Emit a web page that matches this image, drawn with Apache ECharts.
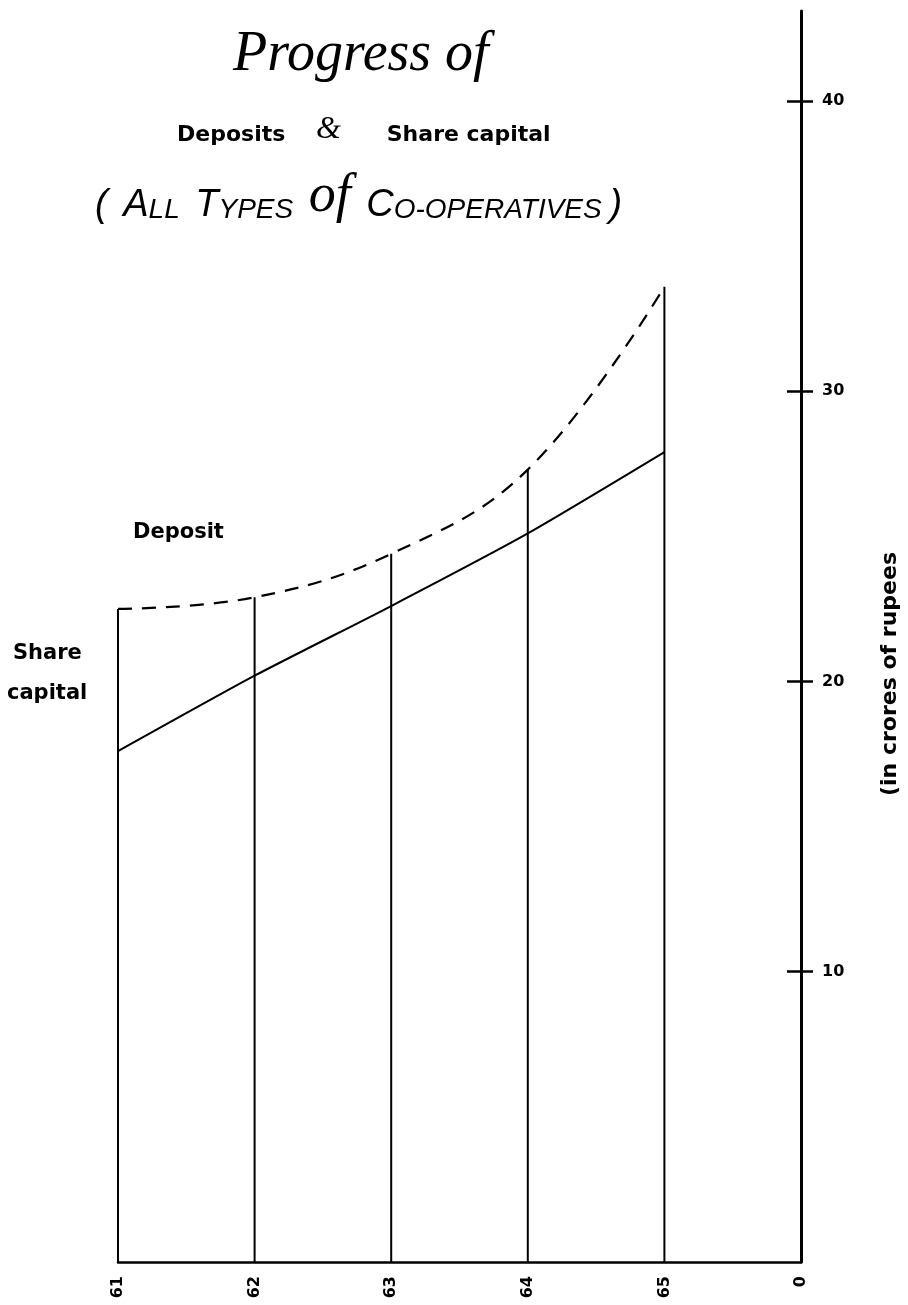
<!DOCTYPE html>
<html>
<head>
<meta charset="utf-8" />
<title>Progress of Deposits &amp; Share capital</title>
<script src="https://cdn.jsdelivr.net/npm/echarts@6.0.0/dist/echarts.min.js"></script>
<style>
  html, body { margin: 0; padding: 0; background: #fff; }
  #main { width: 908px; height: 1305px; }
</style>
</head>
<body>
<div id="main"></div>
<script>
// values (crores of rupees)
var years = [61, 62, 63, 64, 65];
var deposits = [22.5, 22.9, 24.4, 27.3, 33.6];
var shareCapital = [17.6, 20.2, 22.6, 25.1, 27.9];
var yTicks = [10, 20, 30, 40];
var xLabels = ['61', '62', '63', '64', '65', '0'];

var gridLeft = 118, gridRight = 107;
var chartW = 908;

function pairs(vals) {
  var out = [];
  for (var i = 0; i < years.length; i++) out.push([years[i], vals[i]]);
  return out;
}

var sans = 'DejaVu Sans';
var myChart = echarts.init(document.getElementById('main'));

var option = {
  backgroundColor: '#fff',
  animation: false,
  grid: { left: gridLeft, right: gridRight, top: 11, bottom: 43, outerBoundsMode: 'none' },
  xAxis: {
    type: 'value',
    min: 61, max: 66, interval: 1,
    axisLine: { show: true, lineStyle: { color: '#000', width: 2.5 } },
    axisTick: { show: false },
    splitLine: { show: false },
    axisLabel: {
      rotate: 90, margin: 14,
      fontFamily: sans, fontWeight: 'bold', fontSize: 16, color: '#000',
      formatter: function (v) { return xLabels[v - 61]; }
    }
  },
  yAxis: [
    {
      type: 'value', position: 'right',
      min: 0, max: 43.1,
      axisLine: { show: true, lineStyle: { color: '#000', width: 3 } },
      axisTick: { show: true, inside: true, length: 14, customValues: yTicks, lineStyle: { color: '#000', width: 2.5 } },
      axisLabel: { show: true, margin: 21, customValues: yTicks, fontFamily: sans, fontWeight: 'bold', fontSize: 16, color: '#000' },
      splitLine: { show: false }
    },
    {
      // only the short right-hand half of each tick
      type: 'value', position: 'left', offset: -(chartW - gridLeft - gridRight),
      min: 0, max: 43.1,
      axisLine: { show: false },
      axisTick: { show: true, inside: true, length: 12, customValues: yTicks, lineStyle: { color: '#000', width: 2.5 } },
      axisLabel: { show: false },
      splitLine: { show: false }
    }
  ],
  graphic: [
    {
      type: 'text', x: 233, y: 55,
      style: { text: 'Progress of', font: 'italic 56px "Liberation Serif"', fill: '#000', textAlign: 'left', textVerticalAlign: 'middle' }
    },
    {
      type: 'text', x: 177, y: 146,
      style: {
        text: '{d|Deposits}    {a|&}      {d|Share capital}',
        font: 'bold 22px "DejaVu Sans"', fill: '#000', textAlign: 'left', textVerticalAlign: 'bottom',
        rich: {
          d: { fontFamily: sans, fontWeight: 'bold', fontSize: 22, fill: '#000', verticalAlign: 'bottom' },
          a: { fontFamily: 'Liberation Serif', fontStyle: 'italic', fontSize: 32, fill: '#000', verticalAlign: 'bottom' }
        }
      }
    },
    {
      type: 'text', x: 95, y: 224,
      style: {
        text: '{b|(}  {b|A}{s|LL}  {b|T}{s|YPES}  {o|of}  {b|C}{s|O-OPERATIVES} {b|)}',
        font: 'italic 28px "Liberation Sans"', fill: '#000', textAlign: 'left', textVerticalAlign: 'bottom',
        rich: {
          b: { fontFamily: 'Liberation Sans', fontStyle: 'italic', fontSize: 38, fill: '#000', verticalAlign: 'bottom' },
          s: { fontFamily: 'Liberation Sans', fontStyle: 'italic', fontSize: 28, fill: '#000', verticalAlign: 'bottom' },
          o: { fontFamily: 'Liberation Serif', fontStyle: 'italic', fontSize: 54, fill: '#000', verticalAlign: 'bottom' }
        }
      }
    },
    { type: 'text', x: 133, y: 533, style: { text: 'Deposit', font: 'bold 21px "DejaVu Sans"', fill: '#000', textVerticalAlign: 'middle' } },
    { type: 'text', x: 13, y: 654, style: { text: 'Share', font: 'bold 21px "DejaVu Sans"', fill: '#000', textVerticalAlign: 'middle' } },
    { type: 'text', x: 7, y: 694, style: { text: 'capital', font: 'bold 21px "DejaVu Sans"', fill: '#000', textVerticalAlign: 'middle' } },
    {
      type: 'text', x: 890, y: 674, rotation: Math.PI / 2,
      style: { text: '(in crores of rupees', font: 'bold 22px "DejaVu Sans"', fill: '#000', textAlign: 'center', textVerticalAlign: 'middle' }
    }
  ],
  series: [
    {
      name: 'Year lines', type: 'bar', yAxisIndex: 0,
      barWidth: 2,
      itemStyle: { color: '#000' },
      data: pairs(deposits)
    },
    {
      name: 'Deposit', type: 'line', yAxisIndex: 0,
      smooth: 0.4, symbol: 'none',
      lineStyle: { color: '#000', width: 2.2, type: [14, 10] },
      data: pairs(deposits)
    },
    {
      name: 'Share capital', type: 'line', yAxisIndex: 0,
      smooth: 0.2, symbol: 'none',
      lineStyle: { color: '#000', width: 2 },
      data: pairs(shareCapital)
    }
  ]
};

myChart.setOption(option);
</script>
</body>
</html>
